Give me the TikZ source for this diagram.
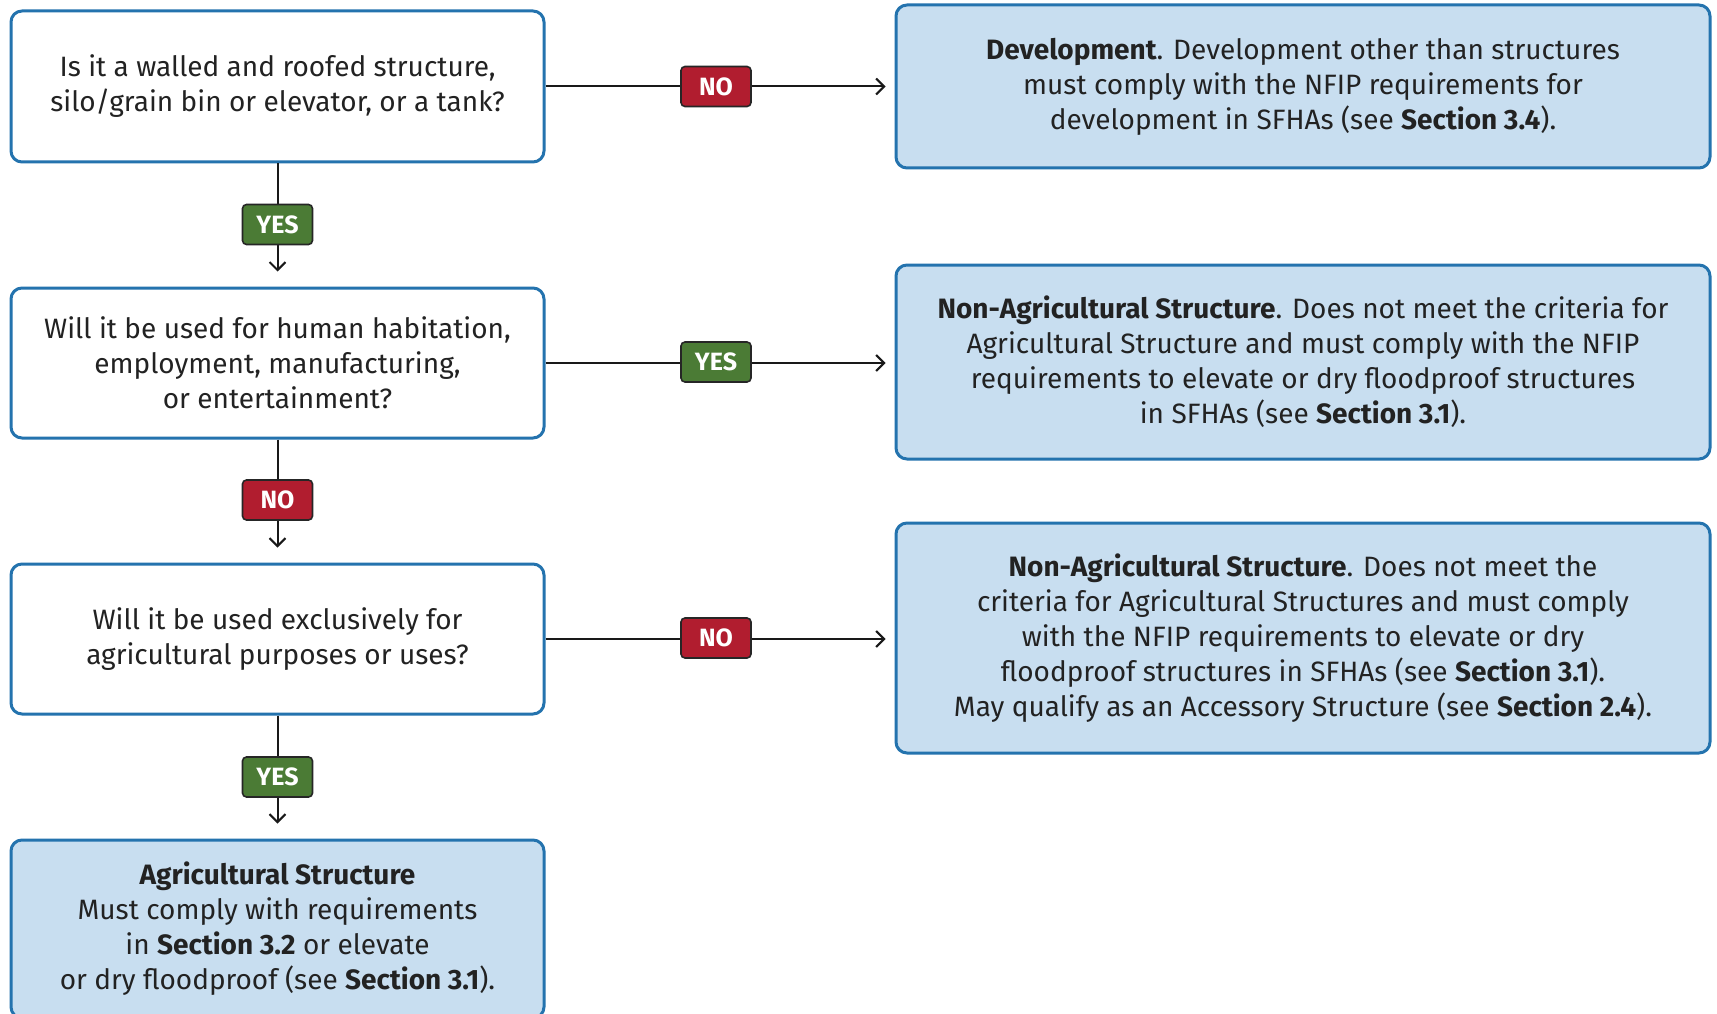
\documentclass[tikz,border=0pt]{standalone}
\usepackage{fontspec}
\setmainfont{Fira Sans}
\usetikzlibrary{arrows.meta}
\definecolor{boxblue}{HTML}{2473AE}
\definecolor{boxfill}{HTML}{C8DEF0}
\definecolor{txt}{HTML}{222222}
\definecolor{nored}{HTML}{B11D2F}
\definecolor{yesgreen}{HTML}{4B7B35}
\tikzset{
  qbox/.style={draw=boxblue, line width=3pt, rounded corners=11pt, fill=white,
    minimum width=533pt, align=center, text=txt,
    font=\fontsize{28}{35}\selectfont},
  rbox/.style={qbox, fill=boxfill, minimum width=814pt},
  lab/.style={draw=black!85, line width=1.6pt, rounded corners=4pt, text=white,
    font=\fontsize{25}{28}\selectfont\bfseries, minimum width=70pt, minimum height=40pt, inner sep=0pt},
  nolab/.style={lab, fill=nored},
  yeslab/.style={lab, fill=yesgreen},
  conn/.style={line width=2pt, black!90},
  arr/.style={conn, -{Straight Barb[length=8pt, width=16pt, line width=2pt]}}
}
\begin{document}
\begin{tikzpicture}[x=1pt, y=-1pt]
\useasboundingbox (0,0) rectangle (1717,1014);
\clip (0,0) rectangle (1717,1014);
\fill[white] (0,0) rectangle (1717,1014);
% left question boxes
\node[qbox, minimum height=151pt] (q1) at (277.5,86.5)
  {Is it a walled and roofed structure,\\silo/grain bin or elevator, or a tank?};
\node[qbox, minimum height=150pt] (q2) at (277.5,363)
  {Will it be used for human habitation,\\employment, manufacturing,\\or entertainment?};
\node[qbox, minimum height=150pt] (q3) at (277.5,639)
  {Will it be used exclusively for\\agricultural purposes or uses?};
\node[qbox, fill=boxfill, minimum height=178pt] (q4) at (277.5,929)
  {\textbf{Agricultural Structure}\\Must comply with requirements\\in \textbf{Section 3.2} or elevate\\or dry floodproof (see \textbf{Section 3.1}).};
% right result boxes
\node[rbox, minimum height=163pt] (r1) at (1303,86.5)
  {\textbf{Development}. Development other than structures\\must comply with the NFIP requirements for\\development in SFHAs (see \textbf{Section 3.4}).};
\node[rbox, minimum height=194pt] (r2) at (1303,362)
  {\textbf{Non-Agricultural Structure}. Does not meet the criteria for\\Agricultural Structure and must comply with the NFIP\\requirements to elevate or dry floodproof structures\\in SFHAs (see \textbf{Section 3.1}).};
\node[rbox, minimum height=230pt] (r3) at (1303,638)
  {\textbf{Non-Agricultural Structure}. Does not meet the\\criteria for Agricultural Structures and must comply\\with the NFIP requirements to elevate or dry\\floodproof structures in SFHAs (see \textbf{Section 3.1}).\\May qualify as an Accessory Structure (see \textbf{Section 2.4}).};
% end points just short of the target boxes
\coordinate (e1) at ([xshift=-9pt]r1.west |- q1.east);
\coordinate (e2) at ([xshift=-9pt]r2.west |- q2.east);
\coordinate (e3) at ([xshift=-9pt]r3.west |- q3.east);
\coordinate (d1) at ([yshift=15pt]q2.north);
\coordinate (d2) at ([yshift=15pt]q3.north);
\coordinate (d3) at ([yshift=15pt]q4.north);
% horizontal connectors
\draw[arr] (q1.east) -- (e1);
\draw[arr] (q2.east) -- (e2);
\draw[arr] (q3.east) -- (e3);
% vertical connectors
\draw[arr] (q1.south) -- (d1);
\draw[arr] (q2.south) -- (d2);
\draw[arr] (q3.south) -- (d3);
% labels
\node[nolab] (l1) at (716,86.5) {NO};
\node[yeslab] (l2) at (716,362) {YES};
\node[nolab] (l3) at (716,638) {NO};
\node[yeslab] (l4) at (277.5,224.5) {YES};
\node[nolab] (l5) at (277.5,500) {NO};
\node[yeslab] (l6) at (277.5,777) {YES};
\end{tikzpicture}
\end{document}
